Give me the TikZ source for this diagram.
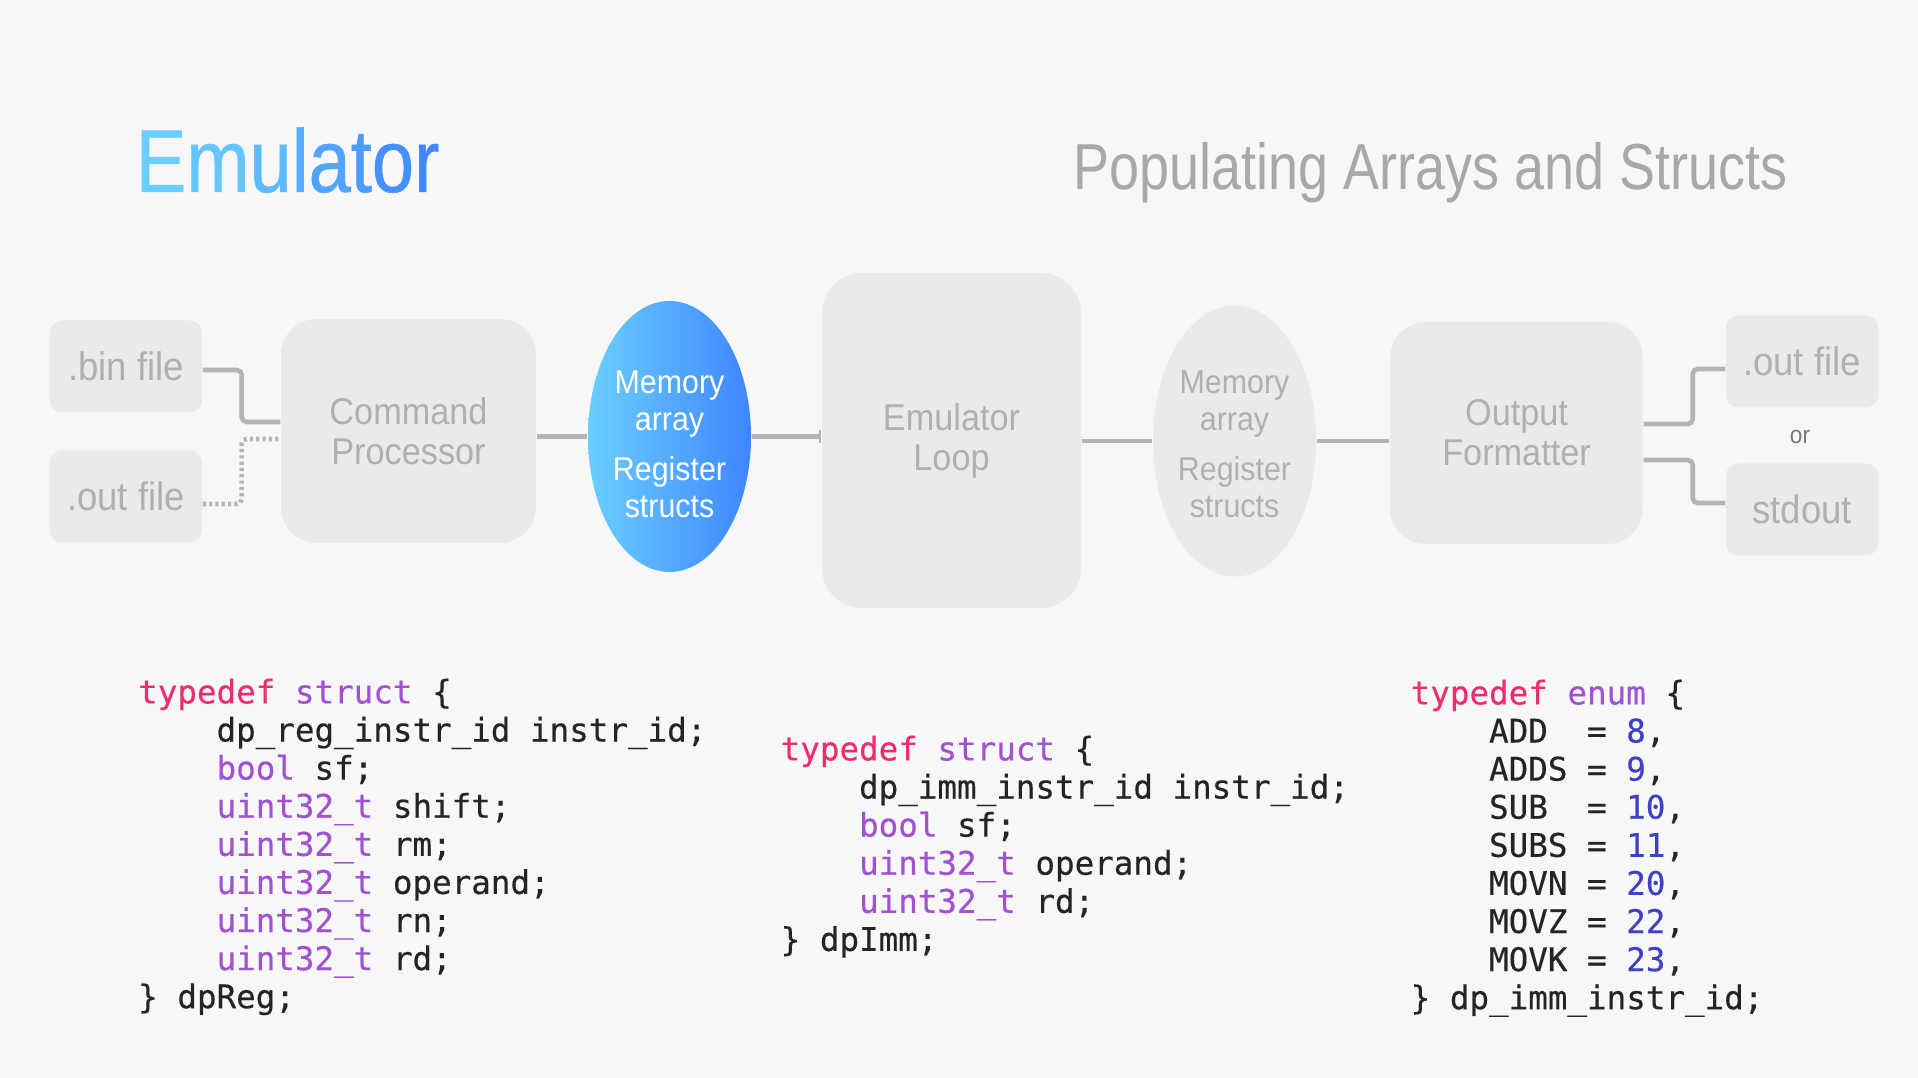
\documentclass[tikz,border=0pt]{standalone}
\usepackage{fontspec}
\usepackage{xcolor}
\usetikzlibrary{arrows.meta,positioning,calc,shapes.geometric}
\setmainfont{Liberation Sans}
\setmonofont[FakeBold=0.35]{DejaVu Sans Mono}
\newfontfamily\uifont[FakeStretch=0.92]{Liberation Sans}
\newfontfamily\headfont[FakeStretch=0.85,FakeBold=0.6]{Liberation Sans}
\newfontfamily\subheadfont[FakeStretch=0.83]{Liberation Sans}
\definecolor{PageGray}{RGB}{247,247,247}
\definecolor{BoxGray}{RGB}{234,234,234}
\definecolor{LabelGray}{RGB}{176,176,176}
\definecolor{SubGray}{RGB}{168,168,168}
\definecolor{LinkGray}{RGB}{180,180,180}
\definecolor{OrGray}{RGB}{120,120,120}
\definecolor{SkyBlue}{RGB}{106,207,255}
\definecolor{DeepBlue}{RGB}{63,134,255}
\definecolor{KeyPink}{RGB}{238,46,108}
\definecolor{TypePurple}{RGB}{160,82,208}
\definecolor{NumBlue}{RGB}{64,64,196}
\definecolor{CodeInk}{RGB}{36,36,36}
\newcommand{\kwd}[1]{\textcolor{KeyPink}{#1}}
\newcommand{\typ}[1]{\textcolor{TypePurple}{#1}}
\newcommand{\numv}[1]{\textcolor{NumBlue}{#1}}
\newcommand{\ind}{\hspace*{2.408em}}
\newcommand{\toppad}[1][11pt]{\rule{0pt}{#1}}

\begin{document}
\begin{tikzpicture}[
    filebox/.style={fill=BoxGray, rounded corners=0.12cm, minimum width=1.52cm, minimum height=0.92cm, text=LabelGray, font=\uifont\fontsize{11.3}{13}\selectfont},
    procbox/.style={fill=BoxGray, rounded corners=0.36cm, text=LabelGray, align=center, font=\uifont\fontsize{10.6}{11.4}\selectfont},
    membubble/.style={ellipse, minimum width=1.63cm, minimum height=2.71cm, inner sep=0pt, align=center, font=\uifont\fontsize{9.4}{10.5}\selectfont},
    link/.style={draw=LinkGray, line width=1.3pt, rounded corners=1.4pt},
    code/.style={anchor=north west, inner sep=0pt, align=left, text=CodeInk, font=\ttfamily\fontsize{9.26}{10.84}\selectfont}
  ]
  \fill[PageGray] (0,0) rectangle (19.18,10.78);

  \node[anchor=base west, inner sep=0pt, font=\headfont\fontsize{25.4}{30}\selectfont] (title) at (1.35,8.86)
    {\textcolor{DeepBlue!0!SkyBlue}{E}\textcolor{DeepBlue!14!SkyBlue}{m}\textcolor{DeepBlue!29!SkyBlue}{u}\textcolor{DeepBlue!43!SkyBlue}{l}\textcolor{DeepBlue!57!SkyBlue}{a}\textcolor{DeepBlue!71!SkyBlue}{t}\textcolor{DeepBlue!86!SkyBlue}{o}\textcolor{DeepBlue!100!SkyBlue}{r}};
  \node[anchor=base east, inner sep=0pt, text=SubGray, font=\subheadfont\fontsize{18.5}{22}\selectfont] (subtitle) at (17.88,8.88) {Populating Arrays and Structs};

  \node[filebox] (binf) at (1.26,7.115) {.bin file};
  \node[filebox] (outf) at (1.26,5.815) {.out file};
  \node[procbox, minimum width=2.55cm, minimum height=2.24cm] (cmd) at (4.085,6.47) {Command\\Processor};
  \node[membubble, left color=SkyBlue, right color=DeepBlue, text=white] (mem) at (6.695,6.415) {\toppad Memory\\array\\[3.7pt]Register\\structs};
  \node[procbox, minimum width=2.59cm, minimum height=3.35cm, rounded corners=0.4cm] (loop) at (9.515,6.375) {Emulator\\Loop};
  \node[membubble, fill=BoxGray, text=LabelGray] (regs) at (12.345,6.37) {\toppad[8.2pt]Memory\\array\\[3.7pt]Register\\structs};
  \node[procbox, minimum width=2.53cm, minimum height=2.22cm] (fmt) at (15.165,6.45) {Output\\Formatter};
  \node[filebox] (outr) at (18.02,7.165) {.out file};
  \node[filebox] (stdo) at (18.02,5.685) {stdout};
  \node[text=OrGray, font=\uifont\fontsize{7}{8}\selectfont] (orsep) at (18.0,6.41) {or};

  \draw[link] ([yshift=-0.035cm]binf.east) -- ++(0.39,0) |- ([yshift=0.09cm]cmd.west);
  \draw[link, dash pattern=on 0.9pt off 0.9pt] ([yshift=-0.075cm]outf.east) -- ++(0.39,0) |- ([yshift=-0.08cm]cmd.west);
  \draw[link] (mem.west -| cmd.east) -- (mem.west);
  \draw[link, -{Bar[width=3.8pt,line width=0.6pt]}] (mem.east) -- (mem.east -| loop.west);
  \draw[link] (regs.west -| loop.east) -- (regs.west);
  \draw[link] (regs.east) -- (regs.east -| fmt.west);
  \draw[link] ([yshift=0.09cm]fmt.east) -- ++(0.49,0) |- ([yshift=-0.075cm]outr.west);
  \draw[link] ([yshift=-0.27cm]fmt.east) -- ++(0.49,0) |- ([yshift=0.065cm]stdo.west);

  \node[code] (dpreg) at (1.375,4.00) {\kwd{typedef} \typ{struct} \{\\
    \ind dp\_reg\_instr\_id instr\_id;\\
    \ind\typ{bool} sf;\\
    \ind\typ{uint32\_t} shift;\\
    \ind\typ{uint32\_t} rm;\\
    \ind\typ{uint32\_t} operand;\\
    \ind\typ{uint32\_t} rn;\\
    \ind\typ{uint32\_t} rd;\\
    \} dpReg;};
  \node[code] (dpimm) at (7.80,3.43) {\kwd{typedef} \typ{struct} \{\\
    \ind dp\_imm\_instr\_id instr\_id;\\
    \ind\typ{bool} sf;\\
    \ind\typ{uint32\_t} operand;\\
    \ind\typ{uint32\_t} rd;\\
    \} dpImm;};
  \node[code] (immenum) at (14.10,3.99) {\kwd{typedef} \typ{enum} \{\\
    \ind ADD~~= \numv{8},\\
    \ind ADDS = \numv{9},\\
    \ind SUB~~= \numv{10},\\
    \ind SUBS = \numv{11},\\
    \ind MOVN = \numv{20},\\
    \ind MOVZ = \numv{22},\\
    \ind MOVK = \numv{23},\\
    \} dp\_imm\_instr\_id;};
\end{tikzpicture}
\end{document}
